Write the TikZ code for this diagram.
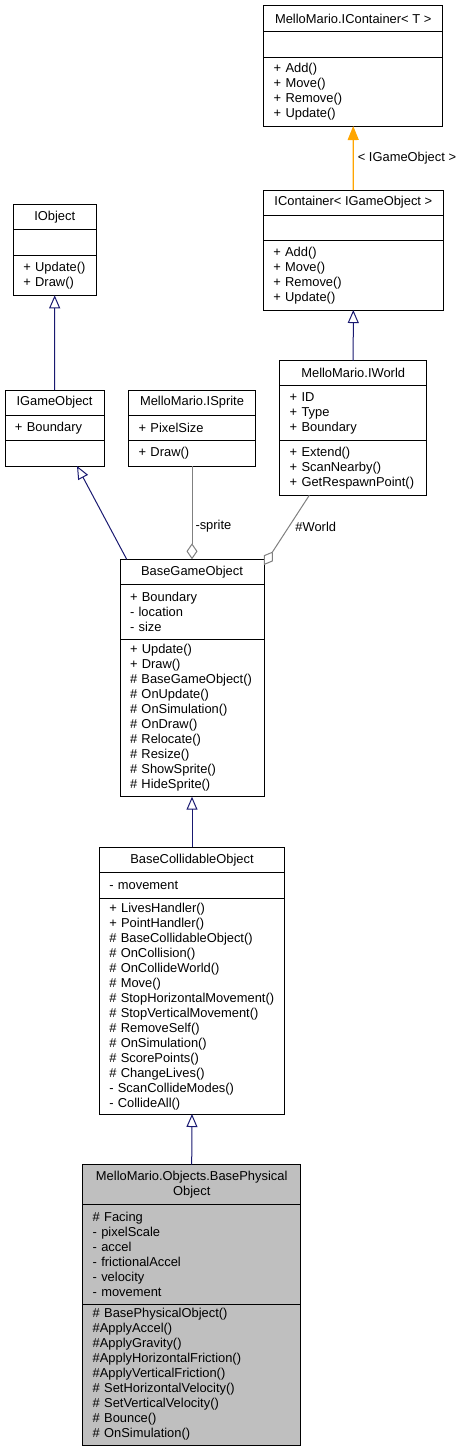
\documentclass[tikz,border=0pt]{standalone}
\usepackage{fontspec}
\setmainfont{Liberation Sans}
\usepackage{tikz}
\usetikzlibrary{arrows.meta, positioning}
\definecolor{umlnavy}{HTML}{191970}
\definecolor{umlorange}{HTML}{FFA500}
\definecolor{umlgrey}{HTML}{808080}
\definecolor{umlfill}{HTML}{BFBFBF}
\newcommand{\umlfont}{\fontsize{12.9pt}{15pt}\selectfont}

\begin{document}
\begin{tikzpicture}[x=1pt, y=-1pt,
    umlbox/.style={draw=black, line width=1pt, outer sep=0pt, inner xsep=10pt, inner ysep=0pt, anchor=north, font=\umlfont},
    umlhead/.style={umlbox, align=center},
    umlpart/.style={umlbox, align=left},
    inherit/.style={draw=umlnavy, line width=1pt, -{Triangle[open, length=13pt, width=11pt]}},
    realize/.style={draw=umlorange, line width=1.2pt, -{Triangle[length=14pt, width=11pt, fill=umlorange]}},
    aggr/.style={draw=umlgrey, line width=1pt, -{Diamond[open, length=16pt, width=11pt]}},
    edgelbl/.style={font=\umlfont, inner sep=3pt, anchor=west}]
    \useasboundingbox (0,0) rectangle (464,1452);

    % MelloMario.IContainer< T >
    \node[umlhead, minimum width=179, minimum height=26] at (353.2,5.7) (ictH) {MelloMario.IContainer< T >};
    \node[umlpart, minimum width=179, text width=159pt, minimum height=25.3, below=0pt of ictH] (ictA) {};
    \node[umlpart, minimum width=179, text width=159pt, minimum height=69, below=0pt of ictA] (ictM) {+ Add()\\+ Move()\\+ Remove()\\+ Update()};

    % IContainer< IGameObject >
    \node[umlhead, minimum width=180, minimum height=25] at (353.3,190) (icgH) {IContainer< IGameObject >};
    \node[umlpart, minimum width=180, text width=160pt, minimum height=25.7, below=0pt of icgH] (icgA) {};
    \node[umlpart, minimum width=180, text width=160pt, minimum height=69.3, below=0pt of icgA] (icgM) {+ Add()\\+ Move()\\+ Remove()\\+ Update()};

    % IObject
    \node[umlhead, minimum width=82.7, minimum height=25] at (54.7,204.7) (iobjH) {IObject};
    \node[umlpart, minimum width=82.7, text width=62.7pt, minimum height=26, below=0pt of iobjH] (iobjA) {};
    \node[umlpart, minimum width=82.7, text width=62.7pt, minimum height=39.6, below=0pt of iobjA] (iobjM) {+ Update()\\+ Draw()};

    % IGameObject
    \node[umlhead, minimum width=99, minimum height=25.3] at (54.5,390) (igoH) {IGameObject};
    \node[umlpart, minimum width=99, text width=79pt, minimum height=25, below=0pt of igoH] (igoA) {+ Boundary};
    \node[umlpart, minimum width=99, text width=79pt, minimum height=25.7, below=0pt of igoA] (igoM) {};

    % MelloMario.ISprite
    \node[umlhead, minimum width=126.7, minimum height=25.3] at (192,390) (ispH) {MelloMario.ISprite};
    \node[umlpart, minimum width=126.7, text width=106.7pt, minimum height=25.3, below=0pt of ispH] (ispA) {+ PixelSize};
    \node[umlpart, minimum width=126.7, text width=106.7pt, minimum height=25.4, below=0pt of ispA] (ispM) {+ Draw()};

    % MelloMario.IWorld
    \node[umlhead, minimum width=147, minimum height=25] at (353.2,360.7) (iwdH) {MelloMario.IWorld};
    \node[umlpart, minimum width=147, text width=127pt, minimum height=55, below=0pt of iwdH] (iwdA) {+ ID\\+ Type\\+ Boundary};
    \node[umlpart, minimum width=147, text width=127pt, minimum height=54.6, below=0pt of iwdA] (iwdM) {+ Extend()\\+ ScanNearby()\\+ GetRespawnPoint()};

    % BaseGameObject
    \node[umlhead, minimum width=144, minimum height=25] at (192,559.3) (bgoH) {BaseGameObject};
    \node[umlpart, minimum width=144, text width=124pt, minimum height=55, below=0pt of bgoH] (bgoA) {+ Boundary\\- location\\- size};
    \node[umlpart, minimum width=144, text width=124pt, minimum height=157.4, below=0pt of bgoA] (bgoM) {+ Update()\\+ Draw()\\\# BaseGameObject()\\\# OnUpdate()\\\# OnSimulation()\\\# OnDraw()\\\# Relocate()\\\# Resize()\\\# ShowSprite()\\\# HideSprite()};

    % BaseCollidableObject
    \node[umlhead, minimum width=185.4, minimum height=25.4] at (192,847.3) (bcoH) {BaseCollidableObject};
    \node[umlpart, minimum width=185.4, text width=165.4pt, minimum height=25.6, below=0pt of bcoH] (bcoA) {- movement};
    \node[umlpart, minimum width=185.4, text width=165.4pt, minimum height=215.7, below=0pt of bcoA] (bcoM) {+ LivesHandler()\\+ PointHandler()\\\# BaseCollidableObject()\\\# OnCollision()\\\# OnCollideWorld()\\\# Move()\\\# StopHorizontalMovement()\\\# StopVerticalMovement()\\\# RemoveSelf()\\\# OnSimulation()\\\# ScorePoints()\\\# ChangeLives()\\- ScanCollideModes()\\- CollideAll()};

    % MelloMario.Objects.BasePhysicalObject
    \node[umlhead, fill=umlfill, minimum width=218, minimum height=39.3] at (191.7,1164.7) (bpoH) {MelloMario.Objects.BasePhysical\\Object};
    \node[umlpart, fill=umlfill, minimum width=218, text width=198pt, minimum height=100, below=0pt of bpoH] (bpoA) {\# Facing\\- pixelScale\\- accel\\- frictionalAccel\\- velocity\\- movement};
    \node[umlpart, fill=umlfill, minimum width=218, text width=198pt, minimum height=141, below=0pt of bpoA] (bpoM) {\# BasePhysicalObject()\\\#ApplyAccel()\\\#ApplyGravity()\\\#ApplyHorizontalFriction()\\\#ApplyVerticalFriction()\\\# SetHorizontalVelocity()\\\# SetVerticalVelocity()\\\# Bounce()\\\# OnSimulation()};

    % edges
    \draw[realize] (icgH.north) -- node[edgelbl, pos=0.5, xshift=1pt] {< IGameObject >} (ictM.south);
    \draw[inherit] (igoH.north) -- (iobjM.south);
    \draw[inherit] (iwdH.north) -- (icgM.south);
    \draw[inherit] ([xshift=-65.3pt]bgoH.north) -- ([xshift=22.5pt]igoM.south);
    \draw[aggr] (ispM.south) -- node[edgelbl, pos=0.65] {-sprite} (bgoH.north);
    \draw[aggr] ([xshift=-43.9pt]iwdM.south) -- node[edgelbl, pos=0.45, xshift=3pt] {\#World} ([yshift=-5.7pt]bgoH.north east);
    \draw[inherit] (bcoH.north) -- (bgoM.south);
    \draw[inherit] (bpoH.north) -- (bcoM.south);
\end{tikzpicture}
\end{document}
